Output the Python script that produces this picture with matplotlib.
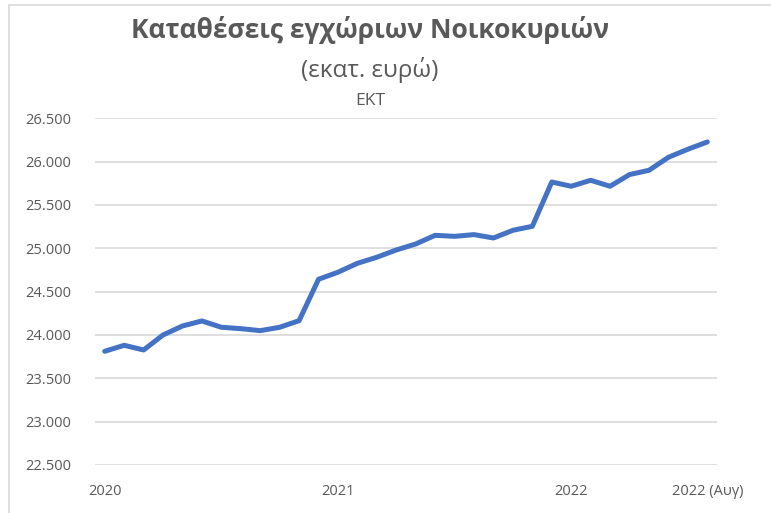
import matplotlib
matplotlib.use("Agg")
import matplotlib.pyplot as plt
from matplotlib.patches import Rectangle

# Data (million euro), monthly Jan 2020 - Aug 2022
months = list(range(32))
deposits = [23812, 23881, 23827, 24000, 24104, 24162, 24089, 24073, 24050, 24089,
            24165, 24643, 24724, 24827, 24897, 24981, 25050, 25150, 25138, 25158,
            25119, 25208, 25254, 25765, 25716, 25785, 25716, 25851, 25900, 26050,
            26143, 26227]
xtick_pos = [0, 12, 24, 31]
xtick_labels = ["2020", "2021", "2022", "2022 (Αυγ)"]
yticks = [22500, 23000, 23500, 24000, 24500, 25000, 25500, 26000, 26500]

plt.rcParams['font.family'] = ['Open Sans', 'DejaVu Sans']

W, H = 771, 513
fig = plt.figure(figsize=(W / 100, H / 100), dpi=100)
ax = fig.add_axes([95 / W, 1 - 465 / H, (717 - 95) / W, (465 - 118.3) / H])

ax.plot(months, deposits, color="#4472C4", linewidth=3.6, solid_capstyle="round",
        solid_joinstyle="round", zorder=3)

ax.set_xlim(-0.5, 31.5)
ax.set_ylim(22500, 26500)
ax.set_yticks(yticks)
ax.set_yticklabels([f"{v:,}".replace(",", ".") for v in yticks])
ax.set_xticks(xtick_pos)
ax.set_xticklabels(xtick_labels)
ax.tick_params(axis="both", length=0, colors="#595959", labelsize=10.5)
ax.tick_params(axis="y", pad=17)
ax.tick_params(axis="x", pad=14)
ax.grid(axis="y", color="#D9D9D9", linewidth=1.2)
for s in ax.spines.values():
    s.set_visible(False)

# Chart border
fig.patches.append(Rectangle((9 / W, -0.1), 1.2, 1 - 5 / H + 0.1, transform=fig.transFigure,
                             fill=False, edgecolor="#D9D9D9", linewidth=1.2))

fig.text(370 / W, 1 - 30 / H, "Καταθέσεις εγχώριων Νοικοκυριών", ha="center", va="center",
         fontsize=19, fontweight="bold", color="#595959")
fig.text(370 / W, 1 - 70 / H, "(εκατ. ευρώ)", ha="center", va="center",
         fontsize=17.5, color="#595959")
fig.text(370 / W, 1 - 101 / H, "ΕΚΤ", ha="center", va="center",
         fontsize=12.5, color="#595959")

fig.savefig("out.png", dpi=100)
